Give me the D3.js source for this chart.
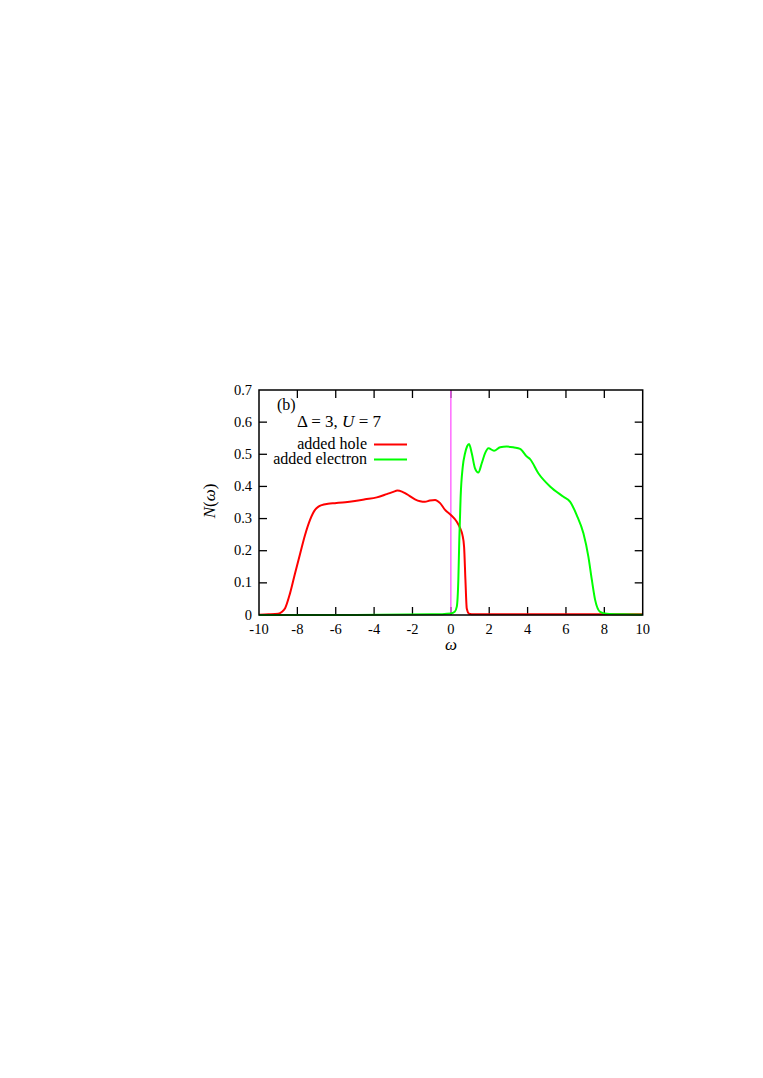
<!DOCTYPE html>
<html><head><meta charset="utf-8">
<script src="https://cdn.jsdelivr.net/npm/d3@7"></script>
<style>body{margin:0;background:#fff;} svg{display:block;} text{font-family:"Liberation Serif","DejaVu Serif",serif;}</style>
</head><body>
<svg id="c" width="763" height="1078"></svg>
<script>
const xTicks = [-10,-8,-6,-4,-2,0,2,4,6,8,10];
const yTicks = [0,0.1,0.2,0.3,0.4,0.5,0.6,0.7];
const xTickLabels = ["-10","-8","-6","-4","-2","0","2","4","6","8","10"];
const yTickLabels = ["0","0.1","0.2","0.3","0.4","0.5","0.6","0.7"];
const holeX = [-10,-9.5,-9,-8.8,-8.64,-8.38,-8.12,-7.86,-7.6,-7.34,-7.08,-6.9,-6.73,-6.4,-6.04,-5.5,-5,-4.47,-3.86,-3.34,-3,-2.79,-2.55,-2.3,-1.87,-1.6,-1.35,-1.1,-0.82,-0.56,-0.3,0,0.31,0.5,0.6,0.69,0.76,0.83,0.95,1.2,2,4,6,8,10];
const holeY = [0.001,0.002,0.004,0.01,0.021,0.068,0.13,0.19,0.249,0.296,0.327,0.337,0.342,0.346,0.348,0.351,0.355,0.36,0.366,0.376,0.383,0.387,0.384,0.376,0.36,0.354,0.352,0.356,0.358,0.348,0.327,0.311,0.29,0.268,0.25,0.212,0.109,0.02,0.004,0.002,0.002,0.002,0.002,0.002,0.002];
const elecX = [-10,-5,-1,0,0.2,0.31,0.39,0.44,0.51,0.62,0.74,0.85,0.95,1.09,1.26,1.43,1.61,1.78,1.96,2.25,2.57,2.91,3.3,3.61,3.96,4.13,4.56,5.17,5.87,6.21,6.56,6.91,7.17,7.35,7.52,7.78,8.13,9,10];
const elecY = [0,0,0.002,0.005,0.01,0.026,0.109,0.233,0.368,0.461,0.503,0.525,0.532,0.503,0.456,0.443,0.472,0.503,0.519,0.511,0.522,0.524,0.521,0.517,0.493,0.485,0.441,0.40,0.368,0.353,0.311,0.254,0.181,0.109,0.047,0.01,0.004,0.002,0.001];
const seriesNames = ["added hole","added electron"];
const seriesColors = ["#ff0000","#00ff00"];
const markerX = 0;

const svg = d3.select("#c");
const L=259, R=642.7, T=390, B=615;
const x = d3.scaleLinear().domain([-10,10]).range([L,R]);
const y = d3.scaleLinear().domain([0,0.7]).range([B,T]);
const tl = 8;

const g = svg.append("g").attr("stroke","#000").attr("stroke-width",1.3);
xTicks.forEach(t=>{
  if (t>-10 && t<10){
    g.append("line").attr("x1",x(t)).attr("x2",x(t)).attr("y1",B).attr("y2",B-tl);
    g.append("line").attr("x1",x(t)).attr("x2",x(t)).attr("y1",T).attr("y2",T+tl);
  }
});
yTicks.forEach(t=>{
  if (t>0 && t<0.7){
    g.append("line").attr("x1",L).attr("x2",L+tl).attr("y1",y(t)).attr("y2",y(t));
    g.append("line").attr("x1",R).attr("x2",R-tl).attr("y1",y(t)).attr("y2",y(t));
  }
});
svg.selectAll(".xl").data(xTicks).enter().append("text")
  .attr("x",d=>x(d)).attr("y",B+19).attr("text-anchor","middle").attr("font-size",14.5)
  .text((d,i)=>xTickLabels[i]);
svg.selectAll(".yl").data(yTicks).enter().append("text")
  .attr("x",L-7).attr("y",d=>y(d)+4.5).attr("text-anchor","end").attr("font-size",14.5)
  .text((d,i)=>yTickLabels[i]);

svg.append("line").attr("x1",x(markerX)).attr("x2",x(markerX)).attr("y1",T).attr("y2",B)
  .attr("stroke","#ff55ff").attr("stroke-width",1.3);

const line = d3.line().curve(d3.curveMonotoneX).x(d=>x(d[0])).y(d=>y(d[1]));
svg.append("clipPath").attr("id","cp").append("rect").attr("x",L).attr("y",T).attr("width",R-L).attr("height",B-T+2);
svg.append("path").datum(holeX.map((v,i)=>[v,holeY[i]])).attr("d",line)
  .attr("fill","none").attr("stroke",seriesColors[0]).attr("stroke-width",2).attr("clip-path","url(#cp)");
svg.append("path").datum(elecX.map((v,i)=>[v,elecY[i]])).attr("d",line)
  .attr("fill","none").attr("stroke",seriesColors[1]).attr("stroke-width",2).attr("clip-path","url(#cp)");

svg.append("rect").attr("x",L).attr("y",T).attr("width",R-L).attr("height",B-T)
  .attr("fill","none").attr("stroke","#000").attr("stroke-width",1.5);

svg.append("text").attr("x",277).attr("y",410).attr("font-size",16).text("(b)");
const ann = svg.append("text").attr("x",297).attr("y",427).attr("font-size",17);
ann.append("tspan").text("Δ = 3, ");
ann.append("tspan").attr("font-style","italic").text("U");
ann.append("tspan").text(" = 7");

const legY = [449, 464];
seriesNames.forEach((n,i)=>{
  svg.append("text").attr("x",367).attr("y",legY[i]).attr("text-anchor","end").attr("font-size",16).text(n);
  svg.append("line").attr("x1",374).attr("x2",407).attr("y1",legY[i]-4.5).attr("y2",legY[i]-4.5)
    .attr("stroke",seriesColors[i]).attr("stroke-width",2);
});

svg.append("text").attr("x",451).attr("y",650).attr("text-anchor","middle").attr("font-size",17)
  .attr("font-style","italic").text("ω");
const yl = svg.append("text").attr("transform","translate(215,501) rotate(-90)").attr("text-anchor","middle").attr("font-size",17);
yl.append("tspan").attr("font-style","italic").text("N");
yl.append("tspan").text("(");
yl.append("tspan").attr("font-style","italic").text("ω");
yl.append("tspan").text(")");
</script>
</body></html>
